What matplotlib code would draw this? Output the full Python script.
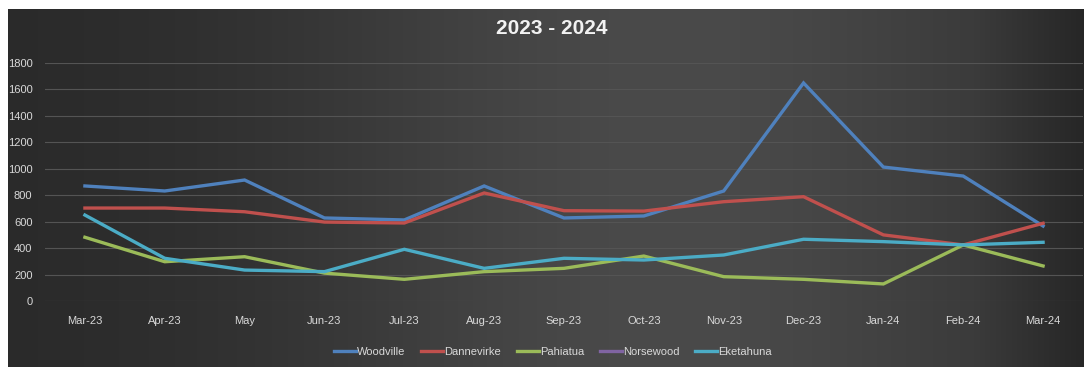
import numpy as np
import matplotlib
matplotlib.use("Agg")
import matplotlib.pyplot as plt
from matplotlib import font_manager

names = sorted({f.name for f in font_manager.fontManager.ttflist})
narrow = "Liberation Sans Narrow" if "Liberation Sans Narrow" in names else "Liberation Sans"
plt.rcParams['font.family'] = [narrow, 'DejaVu Sans']

months = ["Mar-23", "Apr-23", "May", "Jun-23", "Jul-23", "Aug-23", "Sep-23",
          "Oct-23", "Nov-23", "Dec-23", "Jan-24", "Feb-24", "Mar-24"]

woodville = [870, 832, 915, 628, 613, 870, 628, 643, 832, 1649, 1013, 945, 567]
dannevirke = [703, 703, 675, 597, 590, 817, 683, 680, 751, 789, 500, 424, 588]
pahiatua = [482, 297, 335, 211, 164, 222, 247, 340, 184, 164, 129, 424, 265]
norsewood = [np.nan] * 13
eketahuna = [650, 323, 234, 222, 391, 247, 323, 310, 348, 467, 449, 424, 444]

series = [("Woodville", woodville, "#4f81bd"),
          ("Dannevirke", dannevirke, "#c0504d"),
          ("Pahiatua", pahiatua, "#9bbb59"),
          ("Norsewood", norsewood, "#8064a2"),
          ("Eketahuna", eketahuna, "#4bacc6")]

W, H = 1085, 368
fig = plt.figure(figsize=(W / 100, H / 100), dpi=100)
fig.patch.set_facecolor("white")

# dark gradient panel behind the chart
bg = fig.add_axes([8 / W, 1 - 367 / H, 1076 / W, 358 / H])
xs = np.linspace(0, 1, 400)
shade = 0.16 + 0.13 * np.exp(-((xs - 0.62) / 0.36) ** 2)
shade[xs > 0.9] -= (xs[xs > 0.9] - 0.9) * 0.5
grad = np.tile(shade, (50, 1))
bg.imshow(np.dstack([grad, grad, grad]), aspect="auto", extent=[0, 1, 0, 1])
bg.set_axis_off()

ax = fig.add_axes([45 / W, 1 - 301 / H, 1038 / W, 238 / H])
ax.patch.set_alpha(0)
x = np.arange(len(months))
for name, vals, col in series:
    ax.plot(x, vals, color=col, lw=2.4, label=name, solid_joinstyle="miter")

ax.set_xlim(-0.5, len(months) - 0.5)
ax.set_ylim(0, 1800)
ax.set_yticks(range(0, 1801, 200))
ax.set_xticks(x)
ax.set_xticklabels(months)
ax.grid(axis="y", color="#545454", lw=0.8)
ax.set_axisbelow(True)
for s in ax.spines.values():
    s.set_visible(False)
ax.tick_params(length=0, colors="#d9d9d9", labelsize=8)
ax.tick_params(axis="y", pad=9)
ax.tick_params(axis="x", pad=11)

fig.text(552 / W, 1 - 28 / H, "2023 - 2024", color="#f2f2f2", fontsize=15,
         fontweight="bold", ha="center", va="center")

leg = fig.legend(loc="center", bbox_to_anchor=(553 / W, 1 - 352 / H), ncol=5,
                 frameon=False, fontsize=8, handlelength=2.0, handletextpad=0.1,
                 columnspacing=1.4)
for t in leg.get_texts():
    t.set_color("#d9d9d9")

fig.savefig("out.png", dpi=100, facecolor=fig.get_facecolor())
